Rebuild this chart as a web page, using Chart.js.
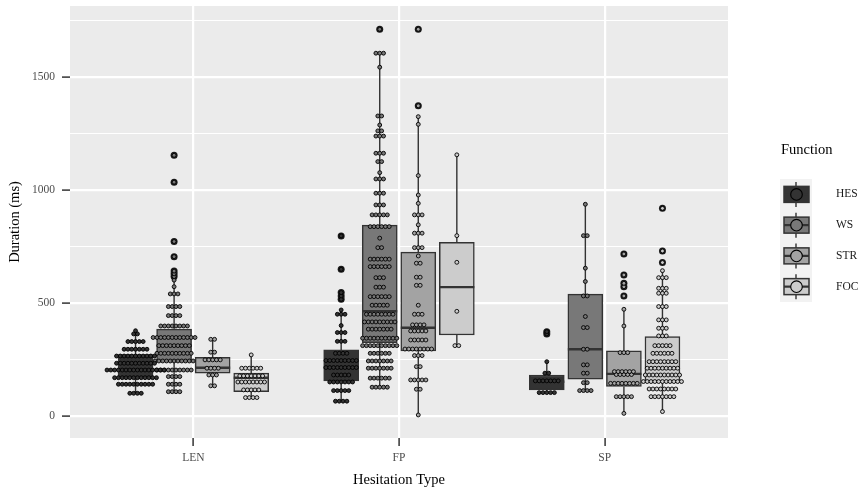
<!DOCTYPE html>
<html>
<head>
<meta charset="utf-8">
<script src="https://cdn.jsdelivr.net/npm/chart.js@4.4.0/dist/chart.umd.min.js"></script>
<style>
  html, body { margin: 0; padding: 0; background: #ffffff; }
  #wrap { width: 861px; height: 489px; position: relative; }
</style>
</head>
<body>
<div id="wrap"><canvas id="chart"></canvas></div>
<script>
/* ─── DATA ─── */
const groups = ['LEN', 'FP', 'SP'];
const functions = ['HES', 'WS', 'STR', 'FOC'];
const yTicks = [0, 250, 500, 750, 1000, 1250, 1500, 1750];

// box stats, one row per function, one column per hesitation type (LEN, FP, SP)
const whiskerLo = [[99, 64, 102], [106, 126, 111], [132, 3, 10], [80, 310, 18]];
const boxQ1     = [[166, 154, 114], [239, 323, 161], [188, 287, 129], [106, 357, 151]];
const boxMed    = [[205, 213, 150], [310, 462, 294], [212, 389, 185], [168, 569, 210]];
const boxQ3     = [[270, 291, 180], [383, 844, 538], [258, 724, 287], [188, 768, 350]];
const whiskerHi = [[376, 468, 239], [600, 1605, 936], [338, 1324, 471], [269, 1155, 642]];
const outliers = [
  [[], [515, 530, 545, 648, 796], [362, 372]],
  [[616, 628, 640, 704, 771, 1034, 1153], [1711], []],
  [[], [1372, 1711], [530, 571, 586, 623, 716]],
  [[], [], [678, 729, 918]]
];

// dot rows [duration, number of dots] per hesitation type
const dotsHES = [
  [[99, 4], [139, 10], [168, 12], [202, 16], [232, 11], [264, 11], [294, 7], [328, 5], [362, 2], [376, 1]],
  [[64, 4], [111, 5], [149, 7], [180, 5], [213, 9], [244, 9], [276, 4], [329, 3], [368, 3], [399, 1], [449, 3], [468, 1], [515, 1], [530, 1], [545, 1], [648, 1], [796, 1]],
  [[102, 5], [154, 7], [188, 2], [239, 1], [362, 1], [372, 1]]
];
const dotsWS = [
  [[106, 4], [139, 4], [173, 4], [202, 10], [242, 11], [276, 10], [310, 9], [346, 12], [397, 8], [443, 4], [483, 4], [539, 3], [571, 1], [600, 1], [616, 1], [628, 1], [640, 1], [704, 1], [771, 1], [1034, 1], [1153, 1]],
  [[126, 5], [166, 6], [210, 7], [242, 7], [276, 6], [310, 10], [343, 10], [383, 7], [415, 9], [449, 8], [489, 5], [527, 6], [569, 3], [611, 3], [660, 6], [693, 6], [744, 2], [786, 1], [837, 6], [889, 5], [933, 3], [985, 3], [1048, 3], [1076, 1], [1125, 2], [1162, 3], [1238, 3], [1261, 2], [1287, 1], [1327, 2], [1543, 1], [1605, 3], [1711, 1]],
  [[111, 4], [146, 2], [188, 2], [225, 2], [294, 2], [390, 2], [439, 1], [530, 2], [594, 1], [653, 1], [797, 2], [936, 1]]
];
const dotsSTR = [
  [[132, 2], [180, 3], [210, 4], [247, 5], [281, 2], [338, 2]],
  [[3, 1], [117, 2], [158, 5], [217, 2], [266, 3], [295, 8], [335, 5], [375, 5], [402, 4], [449, 3], [489, 1], [577, 2], [613, 2], [675, 2], [707, 1], [744, 3], [808, 3], [845, 1], [889, 3], [940, 1], [977, 1], [1063, 1], [1290, 1], [1324, 1], [1372, 1], [1711, 1]],
  [[10, 1], [84, 5], [143, 8], [182, 5], [195, 6], [279, 3], [397, 1], [471, 1], [530, 1], [571, 1], [586, 1], [623, 1], [716, 1]]
];
const dotsFOC = [
  [[80, 4], [114, 5], [149, 8], [176, 7], [210, 6], [269, 1]],
  [[310, 2], [462, 1], [679, 1], [797, 1], [1155, 1]],
  [[18, 1], [84, 7], [118, 8], [151, 11], [180, 10], [210, 9], [239, 8], [276, 6], [310, 5], [353, 3], [387, 3], [424, 3], [483, 3], [542, 3], [564, 3], [611, 3], [642, 1], [678, 1], [729, 1], [918, 1]]
];
const dotRows = [dotsHES, dotsWS, dotsSTR, dotsFOC];

/* ─── STYLE ─── */
const FONT = "'Liberation Serif', 'DejaVu Serif', serif";
const FILLS = ['#333333', '#787878', '#a3a3a3', '#cccccc'];
const LINE = '#333333';
const DODGE = 0.1875;     // dodge step between boxes, x units
const DOT_STEP = 0.0185;  // horizontal dot spacing, x units
const BOX_PX = 35;

const xPos = (f, g) => g + 1 + (f - 1.5) * DODGE;

/* ─── DATASETS ─── */
const boxSets = functions.map((fn, f) => ({
  type: 'bar',
  label: fn,
  order: 3,
  data: groups.map((g, i) => ({ x: xPos(f, i), y: [boxQ1[f][i], boxQ3[f][i]] })),
  backgroundColor: FILLS[f],
  borderColor: LINE,
  borderWidth: 1.5,
  borderSkipped: false,
  barThickness: BOX_PX,
  grouped: false
}));

const outlierSet = {
  type: 'scatter',
  label: 'outliers',
  order: 2,
  data: outliers.flatMap((byGroup, f) => byGroup.flatMap((vals, i) => vals.map(v => ({ x: xPos(f, i), y: v })))),
  pointRadius: 3.5,
  pointBackgroundColor: '#1a1a1a',
  pointBorderWidth: 0
};

const dotSets = functions.map((fn, f) => ({
  type: 'scatter',
  label: fn + ' dots',
  order: 1,
  data: dotRows[f].flatMap((rows, i) => rows.flatMap(([v, n]) => {
    const pts = [];
    for (let k = 0; k < n; k++) pts.push({ x: xPos(f, i) + (k - (n - 1) / 2) * DOT_STEP, y: v });
    return pts;
  })),
  pointRadius: 1.95,
  pointBackgroundColor: FILLS[f],
  pointBorderColor: '#000000',
  pointBorderWidth: 0.9
}));

/* ─── PLUGINS ─── */
const panelBg = {
  id: 'panelBg',
  beforeDraw(chart) {
    const { ctx, chartArea: a } = chart;
    ctx.save();
    ctx.fillStyle = '#ebebeb';
    ctx.fillRect(a.left, a.top, a.width, a.height);
    ctx.restore();
  }
};

const whiskers = {
  id: 'whiskers',
  afterDatasetDraw(chart, args) {
    if (args.meta.type !== 'bar') return;
    const f = args.index;
    const { ctx, scales: { x, y } } = chart;
    ctx.save();
    ctx.strokeStyle = LINE;
    groups.forEach((g, i) => {
      const px = x.getPixelForValue(xPos(f, i));
      ctx.lineWidth = 1.4;
      ctx.beginPath();
      ctx.moveTo(px, y.getPixelForValue(whiskerHi[f][i]));
      ctx.lineTo(px, y.getPixelForValue(boxQ3[f][i]));
      ctx.moveTo(px, y.getPixelForValue(boxQ1[f][i]));
      ctx.lineTo(px, y.getPixelForValue(whiskerLo[f][i]));
      ctx.stroke();
      const my = y.getPixelForValue(boxMed[f][i]);
      ctx.lineWidth = 2.4;
      ctx.beginPath();
      ctx.moveTo(px - BOX_PX / 2, my);
      ctx.lineTo(px + BOX_PX / 2, my);
      ctx.stroke();
    });
    ctx.restore();
  }
};

const fnLegend = {
  id: 'fnLegend',
  afterDraw(chart) {
    const ctx = chart.ctx;
    const left = 780, top = 179, keyW = 32, keyH = 30.75;
    ctx.save();
    ctx.fillStyle = '#000000';
    ctx.font = `14.5px ${FONT}`;
    ctx.textBaseline = 'middle';
    ctx.textAlign = 'left';
    ctx.fillText('Function', left + 1, 150);

    ctx.fillStyle = '#f2f2f2';
    ctx.fillRect(left, top, keyW, keyH * functions.length);

    functions.forEach((fn, k) => {
      const cy = top + keyH * (k + 0.5);
      const cx = left + keyW / 2;
      ctx.strokeStyle = LINE;
      ctx.lineWidth = 1.4;
      ctx.beginPath();
      ctx.moveTo(cx, cy - 12.5);
      ctx.lineTo(cx, cy + 12.5);
      ctx.stroke();

      ctx.fillStyle = FILLS[k];
      ctx.lineWidth = 1.5;
      ctx.fillRect(left + 4, cy - 8, 25, 16);
      ctx.strokeRect(left + 4, cy - 8, 25, 16);

      ctx.lineWidth = 2.2;
      ctx.beginPath();
      ctx.moveTo(left + 4, cy);
      ctx.lineTo(left + 29, cy);
      ctx.stroke();

      ctx.beginPath();
      ctx.arc(cx + 0.5, cy, 5.8, 0, Math.PI * 2);
      ctx.fillStyle = FILLS[k];
      ctx.fill();
      ctx.strokeStyle = '#000000';
      ctx.lineWidth = 1.1;
      ctx.stroke();

      ctx.fillStyle = '#1a1a1a';
      ctx.font = `11.5px ${FONT}`;
      ctx.fillText(fn, 836, cy);
    });
    ctx.restore();
  }
};

/* ─── CHART ─── */
new Chart(document.getElementById('chart'), {
  type: 'bar',
  data: { datasets: [...boxSets, outlierSet, ...dotSets] },
  options: {
    responsive: true,
    maintainAspectRatio: false,
    animation: false,
    layout: { padding: { top: 6, right: 133, bottom: 0, left: 0 } },
    plugins: { legend: { display: false }, tooltip: { enabled: false } },
    scales: {
      x: {
        type: 'linear',
        min: 0.4,
        max: 3.6,
        offset: false,
        afterBuildTicks: s => { s.ticks = groups.map((g, i) => ({ value: i + 1 })); },
        afterFit: s => { s.height = 51; s.paddingLeft = 0; s.paddingRight = 0; },
        ticks: {
          callback: v => groups[Math.round(v) - 1],
          color: '#4d4d4d',
          font: { family: FONT, size: 11.5 },
          padding: 5,
          maxRotation: 0,
          autoSkip: false
        },
        grid: { offset: false, color: '#ffffff', lineWidth: 2.2, tickColor: LINE, tickLength: 8, tickWidth: 1.5 },
        border: { display: false },
        title: {
          display: true,
          text: 'Hesitation Type',
          color: '#000000',
          font: { family: FONT, size: 14.5 },
          padding: { top: 0, bottom: 0 }
        }
      },
      y: {
        type: 'linear',
        min: -99,
        max: 1814,
        afterBuildTicks: s => { s.ticks = yTicks.map(v => ({ value: v })); },
        afterFit: s => { s.width = 70; s.paddingTop = 0; s.paddingBottom = 0; },
        ticks: {
          callback: v => (v % 500 === 0 ? String(v) : ''),
          color: '#4d4d4d',
          font: { family: FONT, size: 11.5 },
          padding: 7
        },
        grid: {
          color: '#ffffff',
          lineWidth: c => (c.tick && c.tick.value % 500 === 0 ? 2.2 : 1.1),
          tickColor: c => (c.tick && c.tick.value % 500 === 0 ? LINE : 'rgba(0,0,0,0)'),
          tickLength: 8,
          tickWidth: 1.5
        },
        border: { display: false },
        title: {
          display: true,
          text: 'Duration (ms)',
          color: '#000000',
          font: { family: FONT, size: 14.5 },
          padding: { top: 6, bottom: 0 }
        }
      }
    }
  },
  plugins: [panelBg, whiskers, fnLegend]
});
</script>
</body>
</html>
